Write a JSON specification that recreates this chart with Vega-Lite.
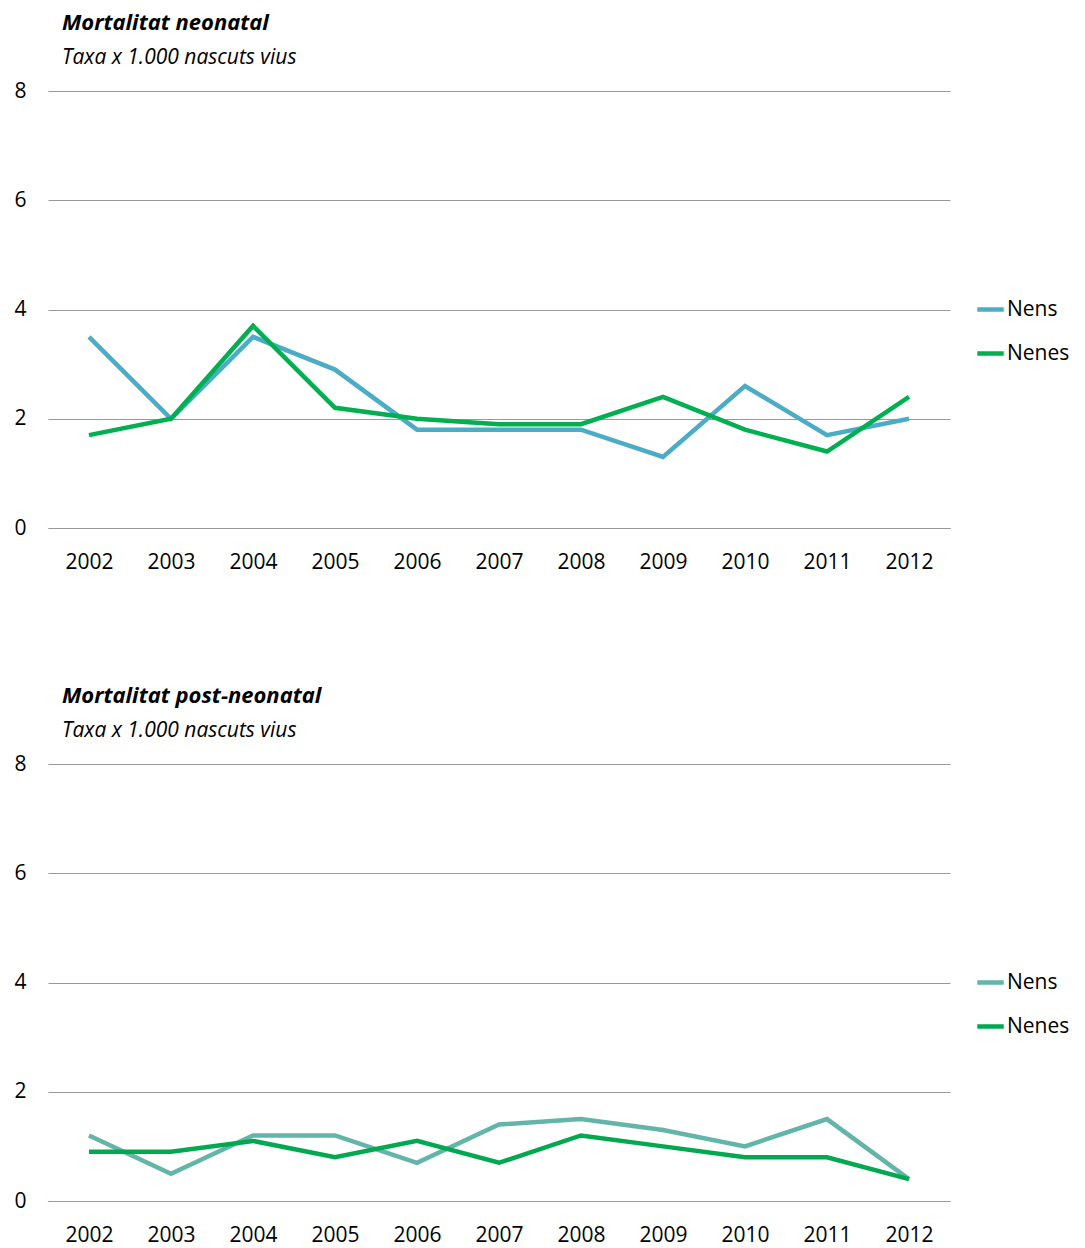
{
  "$schema": "https://vega.github.io/schema/vega-lite/v6.json",
  "padding": {"top": 12, "left": 13, "right": 0, "bottom": 0},
  "datasets": {
    "neo": [
      {"any": "2002", "sexe": "Nens", "taxa": 3.5}, {"any": "2003", "sexe": "Nens", "taxa": 2.0},
      {"any": "2004", "sexe": "Nens", "taxa": 3.5}, {"any": "2005", "sexe": "Nens", "taxa": 2.9},
      {"any": "2006", "sexe": "Nens", "taxa": 1.8}, {"any": "2007", "sexe": "Nens", "taxa": 1.8},
      {"any": "2008", "sexe": "Nens", "taxa": 1.8}, {"any": "2009", "sexe": "Nens", "taxa": 1.3},
      {"any": "2010", "sexe": "Nens", "taxa": 2.6}, {"any": "2011", "sexe": "Nens", "taxa": 1.7},
      {"any": "2012", "sexe": "Nens", "taxa": 2.0},
      {"any": "2002", "sexe": "Nenes", "taxa": 1.7}, {"any": "2003", "sexe": "Nenes", "taxa": 2.0},
      {"any": "2004", "sexe": "Nenes", "taxa": 3.7}, {"any": "2005", "sexe": "Nenes", "taxa": 2.2},
      {"any": "2006", "sexe": "Nenes", "taxa": 2.0}, {"any": "2007", "sexe": "Nenes", "taxa": 1.9},
      {"any": "2008", "sexe": "Nenes", "taxa": 1.9}, {"any": "2009", "sexe": "Nenes", "taxa": 2.4},
      {"any": "2010", "sexe": "Nenes", "taxa": 1.8}, {"any": "2011", "sexe": "Nenes", "taxa": 1.4},
      {"any": "2012", "sexe": "Nenes", "taxa": 2.4}
    ],
    "post": [
      {"any": "2002", "sexe": "Nens", "taxa": 1.2}, {"any": "2003", "sexe": "Nens", "taxa": 0.5},
      {"any": "2004", "sexe": "Nens", "taxa": 1.2}, {"any": "2005", "sexe": "Nens", "taxa": 1.2},
      {"any": "2006", "sexe": "Nens", "taxa": 0.7}, {"any": "2007", "sexe": "Nens", "taxa": 1.4},
      {"any": "2008", "sexe": "Nens", "taxa": 1.5}, {"any": "2009", "sexe": "Nens", "taxa": 1.3},
      {"any": "2010", "sexe": "Nens", "taxa": 1.0}, {"any": "2011", "sexe": "Nens", "taxa": 1.5},
      {"any": "2012", "sexe": "Nens", "taxa": 0.4},
      {"any": "2002", "sexe": "Nenes", "taxa": 0.9}, {"any": "2003", "sexe": "Nenes", "taxa": 0.9},
      {"any": "2004", "sexe": "Nenes", "taxa": 1.1}, {"any": "2005", "sexe": "Nenes", "taxa": 0.8},
      {"any": "2006", "sexe": "Nenes", "taxa": 1.1}, {"any": "2007", "sexe": "Nenes", "taxa": 0.7},
      {"any": "2008", "sexe": "Nenes", "taxa": 1.2}, {"any": "2009", "sexe": "Nenes", "taxa": 1.0},
      {"any": "2010", "sexe": "Nenes", "taxa": 0.8}, {"any": "2011", "sexe": "Nenes", "taxa": 0.8},
      {"any": "2012", "sexe": "Nenes", "taxa": 0.4}
    ]
  },
  "vconcat": [
    {
      "data": {"name": "neo"},
      "width": 902,
      "height": 437,
      "title": {"text": "Mortalitat neonatal", "subtitle": "Taxa x 1.000 nascuts vius"},
      "mark": {"type": "line", "strokeWidth": 4.5},
      "encoding": {
        "x": {"field": "any", "type": "ordinal", "scale": {"type": "point", "padding": 0.5}, "axis": {"title": null}},
        "y": {"field": "taxa", "type": "quantitative", "scale": {"domain": [0, 8]}, "axis": {"title": null, "values": [0, 2, 4, 6, 8]}},
        "color": {"field": "sexe", "type": "nominal", "scale": {"domain": ["Nens", "Nenes"], "range": ["#4bacc6", "#00b050"]}, "legend": {"title": null}}
      }
    },
    {
      "data": {"name": "post"},
      "width": 902,
      "height": 437,
      "title": {"text": "Mortalitat post-neonatal", "subtitle": "Taxa x 1.000 nascuts vius"},
      "mark": {"type": "line", "strokeWidth": 4.5},
      "encoding": {
        "x": {"field": "any", "type": "ordinal", "scale": {"type": "point", "padding": 0.5}, "axis": {"title": null}},
        "y": {"field": "taxa", "type": "quantitative", "scale": {"domain": [0, 8]}, "axis": {"title": null, "values": [0, 2, 4, 6, 8]}},
        "color": {"field": "sexe", "type": "nominal", "scale": {"domain": ["Nens", "Nenes"], "range": ["#62b5a8", "#00a94f"]}, "legend": {"title": null}}
      }
    }
  ],
  "spacing": 113,
  "resolve": {"scale": {"color": "independent"}, "legend": {"color": "independent"}},
  "config": {
    "font": "Open Sans",
    "view": {"stroke": null},
    "title": {"anchor": "start", "frame": "group", "dx": 14, "fontSize": 22, "fontStyle": "italic", "fontWeight": "bold", "color": "#000", "subtitleFontSize": 21, "subtitleFontStyle": "italic", "subtitleColor": "#000", "subtitlePadding": 12, "offset": 11},
    "axisY": {"domain": false, "ticks": false, "gridColor": "#999", "gridWidth": 1, "labelFontSize": 21, "labelColor": "#000", "labelPadding": 22},
    "axisX": {"domainColor": "#999", "ticks": false, "grid": false, "labelFontSize": 21, "labelColor": "#000", "labelPadding": 23, "labelAngle": 0},
    "legend": {"orient": "none", "legendX": 927, "legendY": 203, "symbolType": "stroke", "symbolStrokeWidth": 4.5, "symbolSize": 700, "labelFontSize": 21, "labelColor": "#000", "rowPadding": 18, "labelOffset": 1}
  }
}
